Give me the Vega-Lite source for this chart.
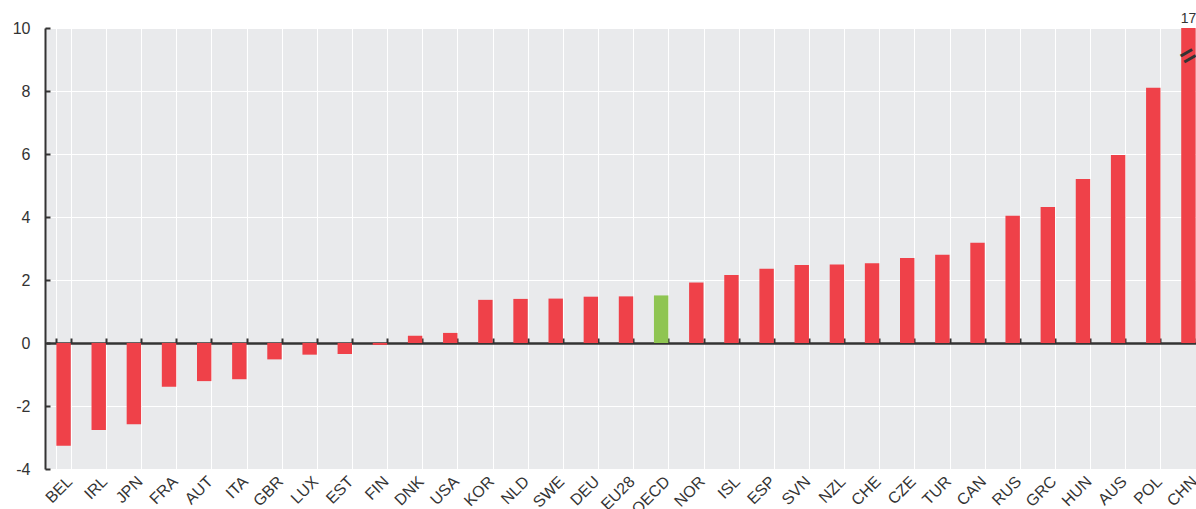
{
  "$schema": "https://vega.github.io/schema/vega-lite/v6.json",
  "width": 1151,
  "height": 441,
  "autosize": "none",
  "padding": {"left": 45, "top": 28, "right": 0, "bottom": 40},
  "background": "white",
  "config": {"view": {"fill": "#e9eaec", "stroke": null}, "font": "Liberation Sans"},
  "data": {"values": [
    {"c": "BEL", "v": -3.26, "g": "c", "lbl": ""},
    {"c": "IRL", "v": -2.76, "g": "c", "lbl": ""},
    {"c": "JPN", "v": -2.58, "g": "c", "lbl": ""},
    {"c": "FRA", "v": -1.39, "g": "c", "lbl": ""},
    {"c": "AUT", "v": -1.21, "g": "c", "lbl": ""},
    {"c": "ITA", "v": -1.15, "g": "c", "lbl": ""},
    {"c": "GBR", "v": -0.52, "g": "c", "lbl": ""},
    {"c": "LUX", "v": -0.37, "g": "c", "lbl": ""},
    {"c": "EST", "v": -0.35, "g": "c", "lbl": ""},
    {"c": "FIN", "v": -0.06, "g": "c", "lbl": ""},
    {"c": "DNK", "v": 0.23, "g": "c", "lbl": ""},
    {"c": "USA", "v": 0.32, "g": "c", "lbl": ""},
    {"c": "KOR", "v": 1.37, "g": "c", "lbl": ""},
    {"c": "NLD", "v": 1.40, "g": "c", "lbl": ""},
    {"c": "SWE", "v": 1.41, "g": "c", "lbl": ""},
    {"c": "DEU", "v": 1.47, "g": "c", "lbl": ""},
    {"c": "EU28", "v": 1.48, "g": "c", "lbl": ""},
    {"c": "OECD", "v": 1.51, "g": "o", "lbl": ""},
    {"c": "NOR", "v": 1.92, "g": "c", "lbl": ""},
    {"c": "ISL", "v": 2.16, "g": "c", "lbl": ""},
    {"c": "ESP", "v": 2.36, "g": "c", "lbl": ""},
    {"c": "SVN", "v": 2.48, "g": "c", "lbl": ""},
    {"c": "NZL", "v": 2.49, "g": "c", "lbl": ""},
    {"c": "CHE", "v": 2.53, "g": "c", "lbl": ""},
    {"c": "CZE", "v": 2.70, "g": "c", "lbl": ""},
    {"c": "TUR", "v": 2.80, "g": "c", "lbl": ""},
    {"c": "CAN", "v": 3.18, "g": "c", "lbl": ""},
    {"c": "RUS", "v": 4.04, "g": "c", "lbl": ""},
    {"c": "GRC", "v": 4.32, "g": "c", "lbl": ""},
    {"c": "HUN", "v": 5.21, "g": "c", "lbl": ""},
    {"c": "AUS", "v": 5.97, "g": "c", "lbl": ""},
    {"c": "POL", "v": 8.10, "g": "c", "lbl": ""},
    {"c": "CHN", "v": 17, "g": "c", "lbl": "17"}
  ]},
  "layer": [
    {
      "mark": {"type": "bar"},
      "encoding": {
        "x": {
          "field": "c", "type": "nominal", "sort": null, "title": null,
          "scale": {"range": [1, 1161], "paddingInner": 0.59, "paddingOuter": 0.295},
          "axis": {"orient": "bottom", "domain": false, "ticks": false, "labelAngle": -45, "labelFontSize": 16, "labelColor": "#333", "labelPadding": 4, "grid": true, "gridColor": "white", "gridWidth": 1, "tickBand": "extent"}
        },
        "y": {
          "field": "v", "type": "quantitative", "title": null,
          "scale": {"domain": [-4, 10], "clamp": true, "nice": false, "zero": false},
          "axis": {"values": [-4, -2, 0, 2, 4, 6, 8, 10], "labelExpr": "datum.value < 0 ? '-' + abs(datum.value) : '' + datum.value", "grid": true, "gridColor": "white", "gridWidth": 1, "domainColor": "#333", "domainWidth": 2, "tickColor": "#333", "tickWidth": 2, "tickSize": -5, "labelPadding": 20, "labelFontSize": 16, "labelColor": "#333"}
        },
        "color": {"field": "g", "type": "nominal", "scale": {"domain": ["c", "o"], "range": ["#ef4149", "#8fc552"]}, "legend": null}
      }
    },
    {
      "mark": {"type": "bar", "opacity": 0},
      "encoding": {
        "x": {
          "field": "c", "type": "nominal", "sort": null, "title": null,
          "axis": {"orient": "top", "offset": -315, "labels": false, "grid": false, "domainColor": "#333", "domainWidth": 2.5, "tickColor": "#333", "tickWidth": 2, "tickSize": 5, "tickBand": "extent"}
        },
        "y": {"field": "v", "type": "quantitative", "title": null}
      }
    },
    {
      "transform": [{"filter": "datum.lbl != ''"}],
      "mark": {"type": "text", "dy": -9, "fontSize": 14, "color": "#333"},
      "encoding": {
        "x": {"field": "c", "type": "nominal", "sort": null, "axis": null},
        "y": {"datum": 10},
        "text": {"field": "lbl"}
      }
    },
    {
      "transform": [{"filter": "datum.lbl != ''"}],
      "mark": {"type": "text", "text": "=", "fontSize": 26, "fontWeight": "bold", "angle": -30, "color": "#333", "baseline": "middle"},
      "encoding": {
        "x": {"field": "c", "type": "nominal", "sort": null, "axis": null},
        "y": {"datum": 9.1}
      }
    }
  ],
  "resolve": {"axis": {"x": "independent"}}
}
